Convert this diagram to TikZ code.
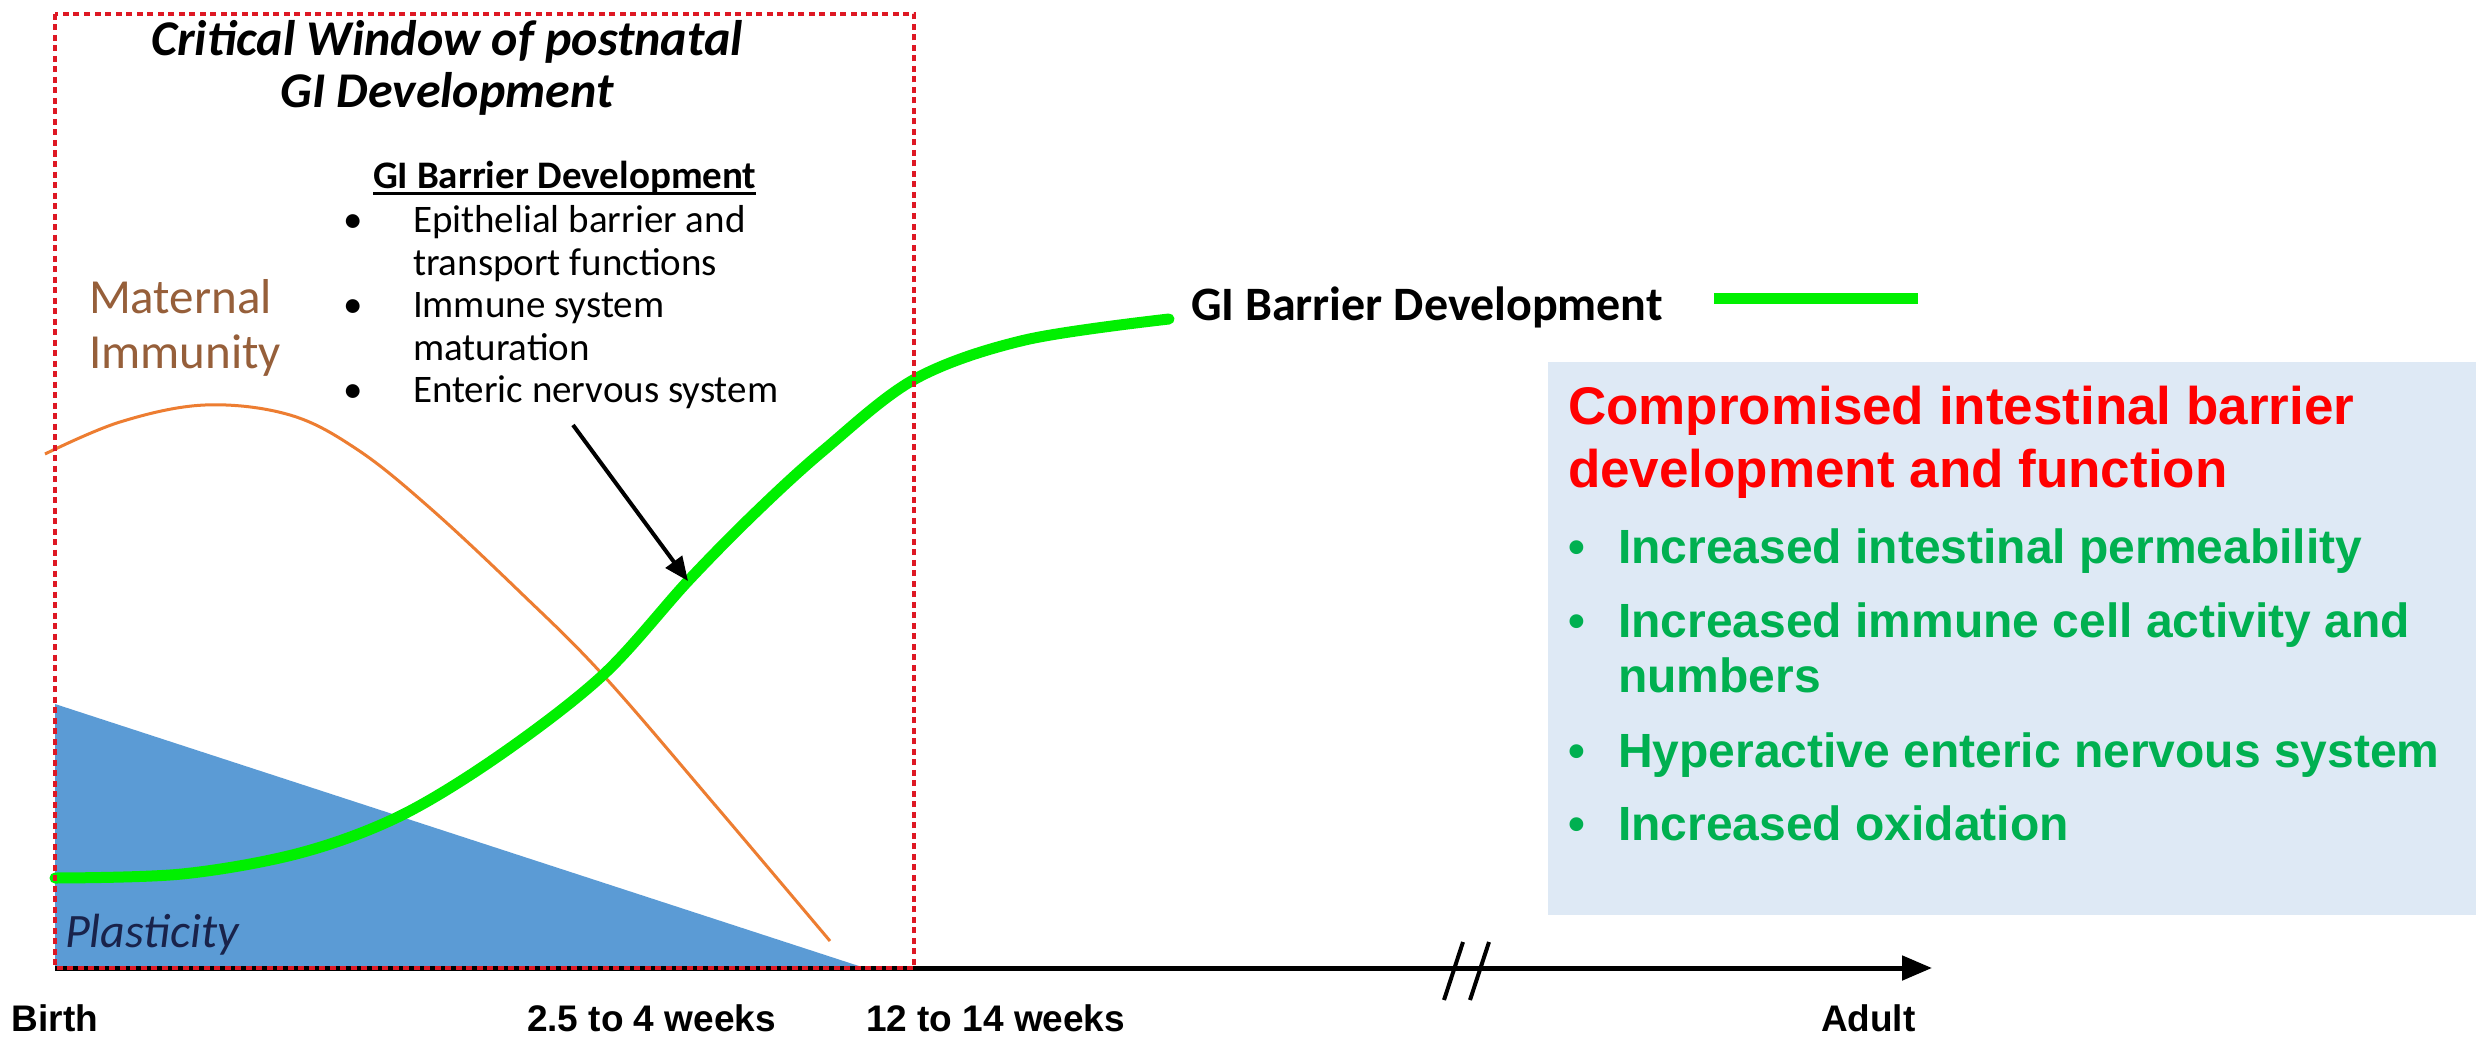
\documentclass[tikz,border=0pt]{standalone}
\usepackage{fontspec}
\setmainfont{Carlito}
\newfontfamily\arialfont{Liberation Sans}
\usetikzlibrary{arrows.meta}

\definecolor{windowred}{RGB}{222,24,36}
\definecolor{plasticblue}{RGB}{91,155,213}
\definecolor{plastictext}{RGB}{25,35,75}
\definecolor{maternalline}{RGB}{237,125,49}
\definecolor{maternaltext}{RGB}{150,95,58}
\definecolor{barriergreen}{RGB}{0,240,0}
\definecolor{panelblue}{RGB}{222,233,245}
\definecolor{panelred}{RGB}{255,0,0}
\definecolor{panelgreen}{RGB}{0,176,80}

\begin{document}
\begin{tikzpicture}[x=1pt,y=-1pt,
  txt/.style={inner sep=0pt, outer sep=0pt, anchor=base west},
  title/.style={txt, anchor=base, font=\fontsize{50}{55}\selectfont\bfseries\itshape},
  calibri/.style={txt, font=\fontsize{39}{43}\selectfont},
  maternal/.style={txt, text=maternaltext, font=\fontsize{49}{55}\selectfont},
  axislabel/.style={txt, font=\arialfont\fontsize{37}{40}\selectfont\bfseries},
  paneltitle/.style={txt, text=panelred, font=\arialfont\fontsize{53}{63}\selectfont\bfseries},
  panelitem/.style={txt, text=panelgreen, font=\arialfont\fontsize{48}{55}\selectfont\bfseries},
  panelbullet/.style={inner sep=0pt, anchor=base, text=panelgreen, font=\arialfont\fontsize{48}{55}\selectfont\bfseries},
  listbullet/.style={inner sep=0pt, anchor=base, font=\fontsize{39}{43}\selectfont},
  greencurve/.style={draw=barriergreen, line width=11pt, line cap=round},
  orangecurve/.style={draw=maternalline, line width=3pt},
  windowbox/.style={draw=windowred, line width=4pt, dash pattern=on 6pt off 4.5pt},
  timeaxis/.style={draw=black, line width=5pt, -{Triangle[length=30pt,width=24pt]}},
  pointer/.style={draw=black, line width=4pt, -{Triangle[length=24pt,width=20pt]}}
]
\useasboundingbox (0,0) rectangle (2476,1038);
\fill[white] (0,0) rectangle (2476,1038);

% plasticity wedge
\fill[plasticblue] (55,704) -- (55,968) -- (865,968) -- cycle;

% maternal immunity curve
\draw[orangecurve] plot[smooth, tension=0.6] coordinates
  {(45,454) (120,422) (205,405) (290,415) (358,450) (430,508) (520,592) (603,675) (715,805) (830,941)};

% GI barrier development curve
\draw[greencurve] plot[smooth, tension=0.55] coordinates
  {(55,878) (182,874) (300,853) (400,816) (500,755) (603,675) (688,581) (756,512) (824,450) (915,379) (1025,340) (1169,319)};

% time axis with break marks
\coordinate (axisstart) at (55,968);
\coordinate (axisend) at (1932,968);
\draw[timeaxis] (axisstart) -- (axisend);
\coordinate (breakAbot) at (1444,1000);
\coordinate (breakAtop) at (1463,942);
\coordinate (breakBbot) at (1470,1000);
\coordinate (breakBtop) at (1489,942);
\draw[line width=4pt] (breakAbot) -- (breakAtop);
\draw[line width=4pt] (breakBbot) -- (breakBtop);

% critical window frame
\draw[windowbox] (55,14) rectangle (914,968);

% headings inside the window
\node[title] (title1) at (447,56) {Critical Window of postnatal};
\node[title] (title2) at (447,108) {GI Development};

\node[calibri, font=\fontsize{39}{43}\selectfont\bfseries] (barrierhead) at (373,188) {GI Barrier Development};
\draw[line width=3pt] ([yshift=-5pt]barrierhead.base west) -- ([yshift=-5pt]barrierhead.base east);

\node[listbullet] (b1) at (353,232) {•};
\node[calibri] (l1) at (413,232) {Epithelial barrier and};
\node[calibri] (l1b) at (413,275) {transport functions};
\node[listbullet] (b2) at (353,317) {•};
\node[calibri] (l2) at (413,317) {Immune system};
\node[calibri] (l2b) at (413,360) {maturation};
\node[listbullet] (b3) at (353,402) {•};
\node[calibri] (l3) at (413,402) {Enteric nervous system};

\node[maternal] (mat1) at (89,313) {Maternal};
\node[maternal] (mat2) at (89,368) {Immunity};

\node[txt, text=plastictext, font=\fontsize{48}{52}\selectfont\itshape] (plasticity) at (65,947) {Plasticity};

% pointer onto the rising curve
\coordinate (pointerstart) at (573,425);
\coordinate (pointerend) at (688,581);
\draw[pointer] (pointerstart) -- (pointerend);

% legend
\node[txt, font=\fontsize{48}{52}\selectfont\bfseries] (legendtext) at (1191,320) {GI Barrier Development};
\coordinate (legendA) at (1714,298);
\coordinate (legendB) at (1918,298);
\draw[draw=barriergreen, line width=11pt] (legendA) -- (legendB);

% consequences panel
\fill[panelblue] (1548,362) rectangle (2476,915);
\node[paneltitle] (pt1) at (1568,424) {Compromised intestinal barrier};
\node[paneltitle] (pt2) at (1568,487) {development and function};
\node[panelbullet] (pb1) at (1577,563) {•};
\node[panelitem] (pi1) at (1618,563) {Increased intestinal permeability};
\node[panelbullet] (pb2) at (1577,637) {•};
\node[panelitem] (pi2) at (1618,637) {Increased immune cell activity and};
\node[panelitem] (pi2b) at (1618,692) {numbers};
\node[panelbullet] (pb3) at (1577,767) {•};
\node[panelitem] (pi3) at (1618,767) {Hyperactive enteric nervous system};
\node[panelbullet] (pb4) at (1577,840) {•};
\node[panelitem] (pi4) at (1618,840) {Increased oxidation};

% time axis labels
\node[axislabel] (birth) at (12,1031) {Birth};
\node[axislabel] (weeks4) at (527,1031) {2.5 to 4 weeks};
\node[axislabel] (weeks14) at (866,1031) {12 to 14 weeks};
\node[axislabel] (adult) at (1821,1031) {Adult};
\end{tikzpicture}
\end{document}
